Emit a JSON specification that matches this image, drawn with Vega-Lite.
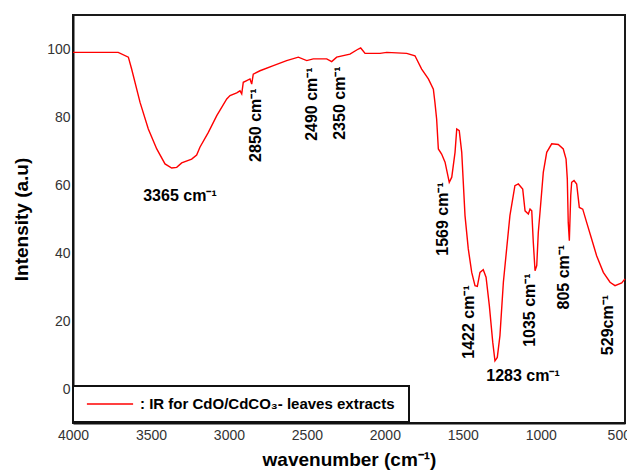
{
  "$schema": "https://vega.github.io/schema/vega-lite/v6.json",
  "width": 552,
  "height": 408,
  "autosize": {"type": "none"},
  "padding": {"left": 73, "top": 15, "right": 2, "bottom": 49},
  "background": "white",
  "config": {
    "font": "Liberation Sans",
    "view": {"stroke": "#1a1a1a", "strokeWidth": 2}
  },
  "datasets": {
    "spectrum": [
      {"wavenumber": 4000, "intensity": 99.0},
      {"wavenumber": 3710, "intensity": 99.0},
      {"wavenumber": 3645, "intensity": 97.6},
      {"wavenumber": 3624, "intensity": 94.1},
      {"wavenumber": 3570, "intensity": 84.3},
      {"wavenumber": 3517, "intensity": 76.5},
      {"wavenumber": 3463, "intensity": 70.6},
      {"wavenumber": 3410, "intensity": 66.2},
      {"wavenumber": 3367, "intensity": 65.0},
      {"wavenumber": 3335, "intensity": 65.2},
      {"wavenumber": 3303, "intensity": 66.5},
      {"wavenumber": 3239, "intensity": 67.6},
      {"wavenumber": 3207, "intensity": 68.8},
      {"wavenumber": 3186, "intensity": 71.1},
      {"wavenumber": 3132, "intensity": 75.5},
      {"wavenumber": 3078, "intensity": 80.4},
      {"wavenumber": 3014, "intensity": 85.3},
      {"wavenumber": 2993, "intensity": 86.3},
      {"wavenumber": 2950, "intensity": 87.1},
      {"wavenumber": 2929, "intensity": 87.7},
      {"wavenumber": 2918, "intensity": 86.8},
      {"wavenumber": 2908, "intensity": 90.2},
      {"wavenumber": 2886, "intensity": 90.7},
      {"wavenumber": 2865, "intensity": 91.2},
      {"wavenumber": 2854, "intensity": 89.7},
      {"wavenumber": 2844, "intensity": 92.6},
      {"wavenumber": 2801, "intensity": 93.6},
      {"wavenumber": 2715, "intensity": 95.1},
      {"wavenumber": 2630, "intensity": 96.6},
      {"wavenumber": 2555, "intensity": 97.6},
      {"wavenumber": 2501, "intensity": 96.6},
      {"wavenumber": 2459, "intensity": 97.1},
      {"wavenumber": 2373, "intensity": 97.1},
      {"wavenumber": 2341, "intensity": 96.3},
      {"wavenumber": 2309, "intensity": 97.6},
      {"wavenumber": 2224, "intensity": 98.5},
      {"wavenumber": 2170, "intensity": 100.0},
      {"wavenumber": 2155, "intensity": 100.3},
      {"wavenumber": 2127, "intensity": 98.7},
      {"wavenumber": 2031, "intensity": 98.7},
      {"wavenumber": 1988, "intensity": 99.0},
      {"wavenumber": 1860, "intensity": 98.7},
      {"wavenumber": 1807, "intensity": 98.0},
      {"wavenumber": 1764, "intensity": 94.1},
      {"wavenumber": 1721, "intensity": 91.2},
      {"wavenumber": 1689, "intensity": 88.2},
      {"wavenumber": 1679, "intensity": 84.3},
      {"wavenumber": 1668, "intensity": 79.4},
      {"wavenumber": 1657, "intensity": 70.6},
      {"wavenumber": 1636, "intensity": 69.1},
      {"wavenumber": 1614, "intensity": 66.7},
      {"wavenumber": 1587, "intensity": 60.8},
      {"wavenumber": 1571, "intensity": 62.3},
      {"wavenumber": 1550, "intensity": 69.6},
      {"wavenumber": 1539, "intensity": 76.5},
      {"wavenumber": 1523, "intensity": 76.0},
      {"wavenumber": 1507, "intensity": 69.6},
      {"wavenumber": 1486, "intensity": 51.0},
      {"wavenumber": 1465, "intensity": 41.2},
      {"wavenumber": 1443, "intensity": 34.3},
      {"wavenumber": 1422, "intensity": 30.4},
      {"wavenumber": 1407, "intensity": 30.2},
      {"wavenumber": 1390, "intensity": 34.3},
      {"wavenumber": 1369, "intensity": 35.1},
      {"wavenumber": 1351, "intensity": 32.9},
      {"wavenumber": 1330, "intensity": 24.5},
      {"wavenumber": 1308, "intensity": 13.7},
      {"wavenumber": 1294, "intensity": 8.3},
      {"wavenumber": 1279, "intensity": 9.3},
      {"wavenumber": 1262, "intensity": 15.7},
      {"wavenumber": 1240, "intensity": 31.4},
      {"wavenumber": 1219, "intensity": 41.2},
      {"wavenumber": 1198, "intensity": 51.0},
      {"wavenumber": 1166, "intensity": 59.8},
      {"wavenumber": 1144, "intensity": 60.3},
      {"wavenumber": 1116, "intensity": 58.8},
      {"wavenumber": 1101, "intensity": 52.4},
      {"wavenumber": 1080, "intensity": 51.5},
      {"wavenumber": 1069, "intensity": 52.9},
      {"wavenumber": 1058, "intensity": 52.4},
      {"wavenumber": 1048, "intensity": 43.1},
      {"wavenumber": 1037, "intensity": 34.8},
      {"wavenumber": 1026, "intensity": 36.3},
      {"wavenumber": 1016, "intensity": 46.1},
      {"wavenumber": 1005, "intensity": 52.0},
      {"wavenumber": 984, "intensity": 63.7},
      {"wavenumber": 962, "intensity": 69.6},
      {"wavenumber": 930, "intensity": 72.1},
      {"wavenumber": 888, "intensity": 71.9},
      {"wavenumber": 856, "intensity": 70.6},
      {"wavenumber": 838, "intensity": 67.6},
      {"wavenumber": 830, "intensity": 61.8},
      {"wavenumber": 824, "intensity": 49.0},
      {"wavenumber": 817, "intensity": 43.6},
      {"wavenumber": 808, "intensity": 56.9},
      {"wavenumber": 802, "intensity": 60.8},
      {"wavenumber": 787, "intensity": 61.3},
      {"wavenumber": 770, "intensity": 60.3},
      {"wavenumber": 753, "intensity": 53.4},
      {"wavenumber": 731, "intensity": 52.9},
      {"wavenumber": 706, "intensity": 49.0},
      {"wavenumber": 674, "intensity": 44.1},
      {"wavenumber": 642, "intensity": 39.2},
      {"wavenumber": 599, "intensity": 34.3},
      {"wavenumber": 556, "intensity": 31.4},
      {"wavenumber": 524, "intensity": 30.4},
      {"wavenumber": 481, "intensity": 31.2},
      {"wavenumber": 460, "intensity": 32.4}
    ],
    "labelsHorizontal": [
      {"wavenumber": 3314, "intensity": 56.9, "label": "3365 cm⁻¹"},
      {"wavenumber": 1114, "intensity": 3.9, "label": "1283 cm⁻¹"}
    ],
    "labelsVertical": [
      {"wavenumber": 2826, "intensity": 77.6, "label": "2850 cm⁻¹"},
      {"wavenumber": 2469, "intensity": 83.8, "label": "2490 cm⁻¹"},
      {"wavenumber": 2288, "intensity": 84.1, "label": "2350 cm⁻¹"},
      {"wavenumber": 1625, "intensity": 50.0, "label": "1569 cm⁻¹"},
      {"wavenumber": 1460, "intensity": 19.7, "label": "1422 cm⁻¹"},
      {"wavenumber": 1069, "intensity": 23.2, "label": "1035 cm⁻¹"},
      {"wavenumber": 851, "intensity": 32.9, "label": "805 cm⁻¹"},
      {"wavenumber": 569, "intensity": 18.8, "label": "529cm⁻¹"}
    ]
  },
  "encoding": {
    "x": {
      "field": "wavenumber",
      "type": "quantitative",
      "scale": {"domain": [460, 4000], "reverse": true, "nice": false, "zero": false},
      "axis": {
        "values": [4000, 3500, 3000, 2500, 2000, 1500, 1000, 500],
        "format": "d",
        "ticks": false,
        "grid": false,
        "labelFlush": false,
        "labelFontSize": 14,
        "labelColor": "#333333",
        "labelPadding": 5,
        "domainColor": "#111111",
        "domainWidth": 2,
        "title": "wavenumber (cm⁻¹)",
        "titleFontSize": 19,
        "titleFontWeight": "bold",
        "titleColor": "#000000",
        "titlePadding": 8
      }
    },
    "y": {
      "field": "intensity",
      "type": "quantitative",
      "scale": {"domain": [-10, 110], "nice": false, "zero": false},
      "axis": {
        "values": [0, 20, 40, 60, 80, 100],
        "ticks": false,
        "grid": false,
        "labelFontSize": 14,
        "labelColor": "#333333",
        "labelPadding": 3,
        "domainColor": "#111111",
        "domainWidth": 2,
        "title": "Intensity (a.u)",
        "titleFontSize": 19,
        "titleFontWeight": "bold",
        "titleColor": "#000000",
        "titlePadding": 15
      }
    }
  },
  "layer": [
    {
      "data": {"name": "spectrum"},
      "mark": {"type": "line", "strokeWidth": 1.4, "interpolate": "linear"},
      "encoding": {
        "color": {
          "datum": "IR for CdO/CdCO₃- leaves extracts",
          "type": "nominal",
          "scale": {"range": ["#ff0000"]},
          "legend": {
            "orient": "none",
            "legendX": 0,
            "legendY": 371,
            "title": null,
            "fillColor": "white",
            "strokeColor": "#111111",
            "padding": 10,
            "symbolType": "M-3.3,0H3.3",
            "symbolSize": 196,
            "symbolStrokeWidth": 1.4,
            "symbolOffset": 19,
            "labelOffset": 22,
            "labelFontSize": 15,
            "labelFontWeight": "bold",
            "labelColor": "#000000",
            "labelLimit": 400,
            "labelExpr": "':  ' + datum.label",
            "encode": {"legend": {"update": {"strokeWidth": {"value": 2}}}}
          }
        }
      }
    },
    {
      "data": {"name": "labelsHorizontal"},
      "mark": {"type": "text", "fontSize": 16, "fontWeight": "bold", "color": "#000000", "align": "center", "baseline": "middle"},
      "encoding": {"text": {"field": "label"}}
    },
    {
      "data": {"name": "labelsVertical"},
      "mark": {"type": "text", "fontSize": 16, "fontWeight": "bold", "color": "#000000", "align": "center", "baseline": "middle", "angle": 270},
      "encoding": {"text": {"field": "label"}}
    }
  ]
}
